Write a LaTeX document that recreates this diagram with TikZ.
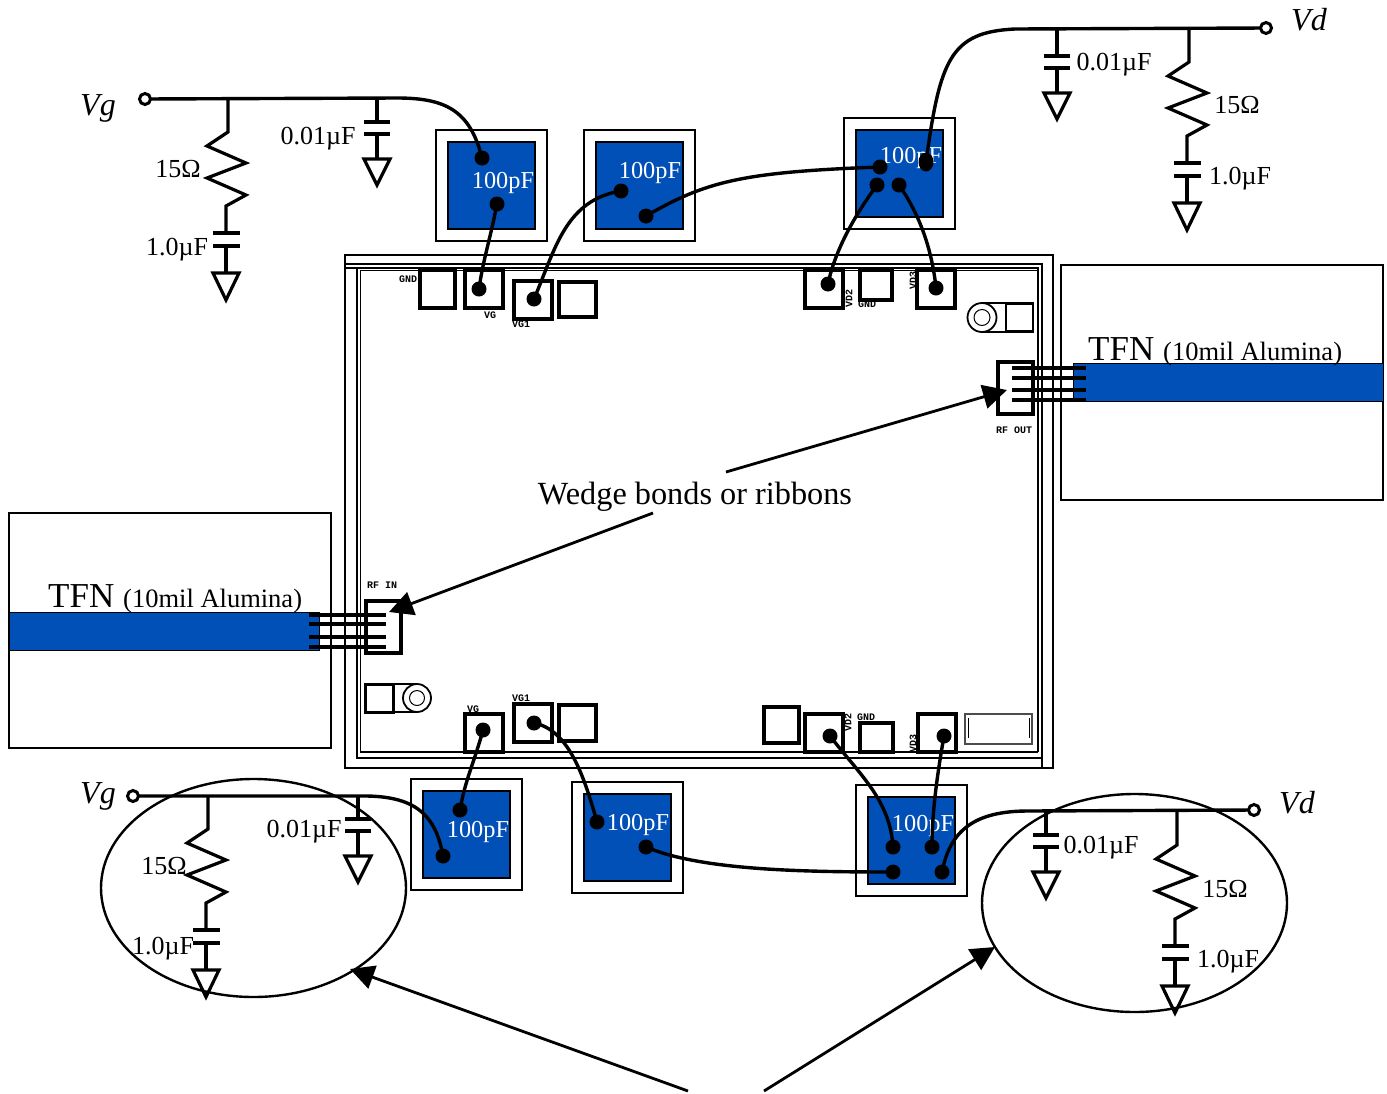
\documentclass[tikz,border=0pt]{standalone}
\usepackage{fontspec}
\setmainfont{Liberation Serif}
\newfontfamily\padfont{Liberation Mono}
\usetikzlibrary{arrows.meta,shapes.geometric}
\definecolor{chipblue}{RGB}{0,80,184}
\tikzset{
  x=1pt,y=-1pt,
  wire/.style={line width=3.4pt,black},
  thinwire/.style={line width=3.2pt,black},
  padbox/.style={draw=black,line width=3.2pt,inner sep=0pt,outer sep=0pt,rectangle},
  capouter/.style={draw=black,line width=1.6pt,fill=white,inner sep=0pt,outer sep=0pt,rectangle,minimum size=111pt},
  capinner/.style={draw=black,line width=1.6pt,fill=chipblue,inner sep=0pt,outer sep=0pt,rectangle,minimum size=87pt},
  bonddot/.style={circle,fill=black,inner sep=0pt,minimum size=15pt},
  terminal/.style={circle,draw=black,line width=3pt,fill=white,inner sep=0pt,minimum size=11pt},
  val/.style={anchor=base,inner sep=0pt,font=\fontsize{26}{30}\selectfont},
  capval/.style={anchor=base,inner sep=0pt,text=white,font=\fontsize{24.3}{30}\selectfont},
  volt/.style={anchor=base,inner sep=0pt,font=\fontsize{32}{36}\selectfont\itshape},
  tiny/.style={inner sep=0pt,font=\fontsize{10}{11}\padfont\bfseries},
  call/.style={line width=2.8pt,-{Triangle[length=24pt,width=24pt]}},
  frame/.style={line width=1.3pt,draw=black},
}
\newcommand{\mypad}[5]{\node[padbox,minimum width={#4-#2},minimum height={#5-#3}] (#1) at ({(#2+#4)/2},{(#3+#5)/2}) {};}
\newcommand{\mycap}[3]{%
  \node[capouter] (#1o) at (#2+55.5,#3+55.5) {};
  \node[capinner] (#1i) at (#2+55.5,#3+55.5) {};
}
% series resistor, capacitor, ground from a junction
\newcommand{\rbranch}[2]{%
  \draw[thinwire,line join=miter] (#1,#2) -- ++(0,33) -- ++(-21,14) -- ++(39,17) -- ++(-39,15) -- ++(39,17) -- ++(-20,11) -- ++(0,27);
  \draw[thinwire] (#1-15,#2+134) -- ++(27,0);
  \draw[thinwire] (#1-15,#2+147) -- ++(27,0);
  \draw[thinwire] (#1-2,#2+147) -- ++(0,27);
  \draw[thinwire,line join=miter,fill=white] (#1-15,#2+174) -- ++(26,0) -- ++(-13,27) -- cycle;
}
\newcommand{\cbranch}[3]{%
  \draw[thinwire] (#1,#2) -- ++(0,#3);
  \draw[thinwire] (#1-13,#2+#3) -- ++(26,0);
  \draw[thinwire] (#1-13,#2+#3+12) -- ++(26,0);
  \draw[thinwire] (#1,#2+#3+12) -- ++(0,25);
  \draw[thinwire,line join=miter,fill=white] (#1-13,#2+#3+37) -- ++(26,0) -- ++(-13,26) -- cycle;
}
\begin{document}
\begin{tikzpicture}
\useasboundingbox (0,0) rectangle (1387,1093);
\fill[white] (0,0) rectangle (1387,1093);

% package frame
\draw[line width=2pt] (345,255) rectangle (1053,768);
\draw[frame] (345,264) -- (1042,264) -- (1042,768);
\draw[frame] (345,268) -- (1038,268) -- (1038,752);
\draw[frame] (357,268) -- (357,758) -- (1043,758);
\draw[line width=1pt] (360,270) -- (360,752);
\draw[line width=1pt] (360,270) -- (1038,270);
\draw[line width=2.4pt] (360,752) -- (1038,752);

% bond pads, top
\mypad{pgnd}{420}{270}{455}{308}
\mypad{pvg}{465}{270}{503}{308}
\mypad{pvgo}{514}{281}{552}{319}
\mypad{pblank}{559}{282}{596}{317}
\mypad{pvdt}{805}{270}{843}{308}
\mypad{pgndr}{860}{270}{892}{300}
\mypad{pvdr}{917}{270}{955}{308}
% bond pads, bottom
\mypad{qvg}{465}{714}{503}{752}
\mypad{qvgo}{514}{704}{552}{742}
\mypad{qblank}{559}{705}{596}{741}
\mypad{qblankr}{764}{707}{799}{743}
\mypad{qvdt}{805}{714}{843}{752}
\mypad{qgnd}{860}{723}{893}{752}
\mypad{qvdr}{918}{714}{956}{752}
\node[draw=black!70,line width=2pt,inner sep=0pt,minimum width=67pt,minimum height=30pt] (qrect) at (998.5,729) {};
\draw[line width=1pt] ([shift={(4,5)}]qrect.north west) -- ++(0,20);
\draw[line width=1pt] ([shift={(-4,5)}]qrect.north east) -- ++(0,20);

% RF pads
\mypad{rfout}{998}{362}{1033}{414}
\mypad{rfin}{366}{601}{401}{653}

% mounting tabs
\draw[line width=1.8pt] (982,303) -- (1033,303) -- (1033,332) -- (982,332);
\node[circle,draw=black,line width=1.8pt,fill=white,inner sep=0pt,minimum size=29pt] (mto) at (982,317.5) {};
\node[circle,draw=black,line width=1pt,inner sep=0pt,minimum size=16pt] (mta) at (982,317.5) {};
\node[draw=black,line width=2pt,fill=white,inner sep=0pt,minimum width=27pt,minimum height=27pt] (mtb) at (1019,317.5) {};
\draw[line width=1.8pt] (365,684) -- (417,684);
\draw[line width=1.8pt] (365,712) -- (417,712);
\node[circle,draw=black,line width=1.8pt,fill=white,inner sep=0pt,minimum size=28pt] (mbo) at (417,698) {};
\node[circle,draw=black,line width=1pt,inner sep=0pt,minimum size=15pt] (mba) at (417,698) {};
\node[draw=black,line width=3pt,fill=white,inner sep=0pt,minimum width=28pt,minimum height=28pt] (mbb) at (379,698) {};

% pad labels
\node[tiny] (t1) at (408,279) {GND};
\node[tiny] (t2) at (490,315) {VG};
\node[tiny] (t3) at (521,324) {VG1};
\node[tiny,rotate=90] (t4) at (849,298) {VD2};
\node[tiny] (t5) at (867,304) {GND};
\node[tiny,rotate=90] (t6) at (913,280) {VD3};
\node[tiny] (t7) at (1014,430) {RF OUT};
\node[tiny] (t8) at (382,585) {RF IN};
\node[tiny] (t9) at (473,709) {VG};
\node[tiny] (t10) at (521,698) {VG1};
\node[tiny,rotate=90] (t11) at (848,722) {VD2};
\node[tiny] (t12) at (866,717) {GND};
\node[tiny,rotate=90] (t13) at (913,743) {VD3};

% thin film networks
\node[draw=black,line width=1.4pt,inner sep=0pt,minimum width=322pt,minimum height=235pt] (tfnr) at (1222,382.5) {};
\fill[chipblue,draw=black,line width=1pt] (1073,363) rectangle (1383,401);
\node[draw=black,line width=1.4pt,inner sep=0pt,minimum width=322pt,minimum height=235pt] (tfnl) at (170,630.5) {};
\fill[chipblue,draw=black,line width=1pt] (9,612) rectangle (319,650);
\node[anchor=base west,inner sep=0pt,font=\fontsize{35}{38}\selectfont] (tr1) at (1088,360) {TFN};
\node[anchor=base west,inner sep=0pt,font=\fontsize{26.5}{30}\selectfont] (tr2) at (1163,360) {(10mil Alumina)};
\node[anchor=base west,inner sep=0pt,font=\fontsize{35}{38}\selectfont] (tl1) at (48,607) {TFN};
\node[anchor=base west,inner sep=0pt,font=\fontsize{26.5}{30}\selectfont] (tl2) at (123,607) {(10mil Alumina)};

% ribbons
\coordinate (ro1) at (1012,368); \coordinate (ro1e) at (1086,368);
\coordinate (ro2) at (1012,378); \coordinate (ro2e) at (1086,378);
\coordinate (ro3) at (1012,390); \coordinate (ro3e) at (1086,390);
\coordinate (ro4) at (1012,400); \coordinate (ro4e) at (1086,400);
\foreach \a in {1,2,3,4}{\draw[thinwire] (ro\a) -- (ro\a e);}
\coordinate (ri1) at (309,615); \coordinate (ri1e) at (386,615);
\coordinate (ri2) at (309,624); \coordinate (ri2e) at (386,624);
\coordinate (ri3) at (309,637); \coordinate (ri3e) at (386,637);
\coordinate (ri4) at (309,647); \coordinate (ri4e) at (386,647);
\foreach \a in {1,2,3,4}{\draw[thinwire] (ri\a) -- (ri\a e);}

% chip capacitors
\mycap{ca}{436}{130}
\mycap{cb}{584}{130}
\mycap{cc}{844}{118}
\mycap{cd}{411}{779}
\mycap{ce}{572}{782}
\mycap{cf}{856}{785}
\node[capval] (va) at (503,188.5) {100pF};
\node[capval] (vb) at (650,178) {100pF};
\node[capval] (vc) at (911,163) {100pF};
\node[capval] (vd) at (478,837) {100pF};
\node[capval] (ve) at (638,830) {100pF};
\node[capval] (vf) at (923,831) {100pF};

% bias networks
\rbranch{228}{99}
\cbranch{377}{99}{23}
\rbranch{1189}{29}
\cbranch{1057}{29}{27}
\rbranch{208}{796}
\cbranch{358}{796}{23}
\rbranch{1177}{812}
\cbranch{1046}{810}{25}

\node[val] (l1) at (318,144) {0.01µF};
\node[val] (l2) at (178,177) {15Ω};
\node[val] (l3) at (177,255) {1.0µF};
\node[val] (l4) at (1114,70) {0.01µF};
\node[val] (l5) at (1237,113) {15Ω};
\node[val] (l6) at (1240,184) {1.0µF};
\node[val] (l7) at (304,837) {0.01µF};
\node[val] (l8) at (164,874) {15Ω};
\node[val] (l9) at (163,954) {1.0µF};
\node[val] (l10) at (1101,853) {0.01µF};
\node[val] (l11) at (1225,897) {15Ω};
\node[val] (l12) at (1228,967) {1.0µF};

\node[volt] (v1) at (98,115.5) {Vg};
\node[volt] (v2) at (1309,30) {Vd};
\node[volt] (v3) at (98,803) {Vg};
\node[volt] (v4) at (1297,813) {Vd};

% terminals and free wire ends
\coordinate (ja) at (397,98);
\coordinate (jb) at (1015,29);
\coordinate (jc) at (358,796);
\coordinate (jd) at (1028,811);

% bond dots
\node[bonddot] (a1) at (482,158) {};
\node[bonddot] (a2) at (497,204) {};
\node[bonddot] (a3) at (479,289) {};
\node[bonddot] (a4) at (534,299) {};
\node[bonddot] (b1) at (621,191) {};
\node[bonddot] (b2) at (646,216) {};
\node[bonddot] (c1) at (880,167) {};
\node[bonddot] (c2) at (877,185) {};
\node[bonddot] (c3) at (899,185) {};
\node[ellipse,fill=black,inner sep=0pt,minimum width=15pt,minimum height=19pt] (c4) at (926,162) {};
\node[bonddot] (c5) at (828,284) {};
\node[bonddot] (c6) at (936,288) {};
\node[bonddot] (d1) at (483,730) {};
\node[bonddot] (d2) at (460,810) {};
\node[bonddot] (d3) at (443,856) {};
\node[bonddot] (d4) at (534,723) {};
\node[bonddot] (e1) at (597,822) {};
\node[bonddot] (e2) at (646,847) {};
\node[bonddot] (f1) at (893,847) {};
\node[bonddot] (f2) at (932,847) {};
\node[bonddot] (f3) at (893,872) {};
\node[bonddot] (f4) at (942,872) {};
\node[bonddot] (f5) at (830,736) {};
\node[bonddot] (f6) at (944,736) {};

% wires
\draw[wire] (145,99) coordinate (tgac) -- (ja) .. controls (445,98) and (470,110) .. (a1.center);
\draw[wire] (a2.center) .. controls (490,240) and (483,260) .. (a3.center);
\draw[wire] (a4.center) .. controls (555,250) and (565,200) .. (b1.center);
\draw[wire] (b2.center) .. controls (705,182) and (740,172) .. (c1.center);
\draw[wire] (c2.center) .. controls (855,215) and (835,250) .. (c5.center);
\draw[wire] (c3.center) .. controls (920,215) and (932,250) .. (c6.center);
\draw[wire] (c4.center) .. controls (940,60) and (950,32) .. (jb) -- (1266,28);
\draw[wire] (d1.center) .. controls (475,760) and (465,780) .. (d2.center);
\draw[wire] (d4.center) .. controls (570,730) and (585,780) .. (e1.center);
\draw[wire] (e2.center) .. controls (700,870) and (800,872) .. (f3.center);
\draw[wire] (133,796) -- (jc) .. controls (410,795) and (435,810) .. (d3.center);
\draw[wire] (f5.center) .. controls (860,775) and (890,800) .. (f1.center);
\draw[wire] (f6.center) .. controls (938,770) and (932,810) .. (f2.center);
\draw[wire] (f4.center) .. controls (950,830) and (975,811) .. (jd) -- (1254,810);

\node[terminal] (tga) at (145,99) {};
\node[terminal] (tda) at (1266,28) {};
\node[terminal] (tgb) at (133,796) {};
\node[terminal] (tdb) at (1254,810) {};

% circles round the networks
\node[draw=black,line width=2.4pt,ellipse,inner sep=0pt,minimum width=305pt,minimum height=218pt] (ell) at (253.5,888) {};
\node[draw=black,line width=2.4pt,ellipse,inner sep=0pt,minimum width=305pt,minimum height=218pt] (elr) at (1134.5,903) {};

% annotation
\node[anchor=base,inner sep=0pt,font=\fontsize{32.3}{36}\selectfont] (wb) at (695,504) {Wedge bonds or ribbons};
\coordinate (wa) at (726,472);
\coordinate (wat) at (1007,390);
\coordinate (wc) at (653,513);
\coordinate (wct) at (389,612);
\coordinate (ba) at (688,1091);
\coordinate (bat) at (350,969);
\coordinate (bb) at (764,1091);
\coordinate (bbt) at (995,947);
\draw[call] (wa) -- (wat);
\draw[call] (wc) -- (wct);
\draw[call] (ba) -- (bat);
\draw[call] (bb) -- (bbt);
\end{tikzpicture}
\end{document}
